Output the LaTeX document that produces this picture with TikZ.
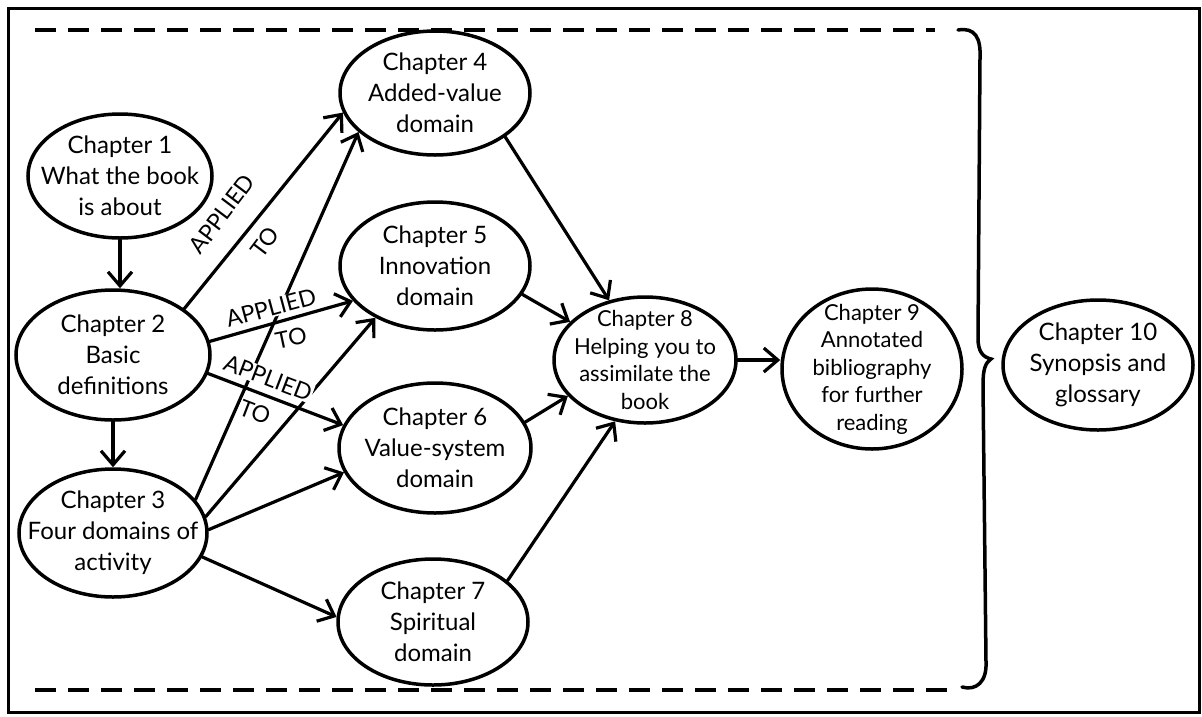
\documentclass[tikz,border=0pt]{standalone}
\usepackage{fontspec}
\setmainfont{Lato}
\usetikzlibrary{shapes.geometric,arrows.meta}

\begin{document}
\begin{tikzpicture}[x=1pt,y=-1pt,
  chap/.style={draw, line width=3.5pt, ellipse, inner xsep=-60pt, inner ysep=-45pt,
               align=center, font=\fontsize{24}{31}\selectfont},
  tight/.style={font=\fontsize{22}{27.5}\selectfont},
  link/.style={line width=3.2pt, line cap=round,
               -{Straight Barb[length=14pt,width=24pt,line width=3.2pt]}},
  tag/.style={font=\fontsize{23}{23}\selectfont, inner sep=1pt, fill=white},
  dashline/.style={line width=4.5pt, dash pattern=on 21pt off 12pt},
]
% page and frame
\fill[white] (0,0) rectangle (1202,716);
\useasboundingbox (0,0) rectangle (1202,716);
\draw[line width=3pt] (8,8) rectangle (1199,712);

% chapters
\node[chap, minimum width=184pt, minimum height=124pt] (c1) at (120,176) {Chapter 1\\What the book\\is about};
\node[chap, minimum width=194pt, minimum height=130pt] (c2) at (113,355) {Chapter 2\\Basic\\definitions};
\node[chap, minimum width=188pt, minimum height=128pt] (c3) at (113,533) {Chapter 3\\Four domains of\\activity};
\node[chap, minimum width=190pt, minimum height=124pt] (c4) at (435,93) {Chapter 4\\Added-value\\domain};
\node[chap, minimum width=190pt, minimum height=128pt] (c5) at (435,266) {Chapter 5\\Innovation\\domain};
\node[chap, minimum width=192pt, minimum height=130pt] (c6) at (435,448) {Chapter 6\\Value-system\\domain};
\node[chap, minimum width=190pt, minimum height=126pt] (c7) at (433,622) {Chapter 7\\Spiritual\\domain};
\node[chap, tight, minimum width=182pt, minimum height=126pt] (c8) at (645,360) {Chapter 8\\Helping you to\\assimilate the\\book};
\node[chap, tight, minimum width=180pt, minimum height=160pt] (c9) at (872,369) {Chapter 9\\Annotated\\bibliography\\for further\\reading};
\node[chap, minimum width=190pt, minimum height=130pt] (c10) at (1098,365) {Chapter 10\\Synopsis and\\glossary};

% links from chapter 3 (broken by the labels drawn after them)
\draw[link] (c3.22) -- (c4.207.5);
\draw[link] (c3.10.5) -- (c5.221.5);
\draw[link] (c3.2) -- (c6.195.7);
\draw[link] (c3.345) -- (c7.177);

% labels
\node[tag, rotate=53] (t1a) at (222,214) {APPLIED};
\node[tag, rotate=53] (t1b) at (265,242) {TO};
\node[tag, rotate=15] (t2a) at (271,308) {APPLIED};
\node[tag, rotate=12] (t2b) at (291,338) {TO};
\node[tag, rotate=-21] (t3a) at (268,378) {APPLIED};
\node[tag, rotate=-21] (t3b) at (255,412) {TO};

% remaining links
\draw[link] (c1.south) -- (c1.south |- c2.north);
\draw[link] (c2.south) -- (c2.south |- c3.north);
\draw[link] (c2.33) -- (c4.192);
\draw[link] (c2.8) -- (c5.203);
\draw[link] (c2.349) -- (c6.166);
\draw[link] (c4.328) -- (c8.121);
\draw[link] (c5.342) -- (c8.153);
\draw[link] (c6.16) -- (c8.205.7);
\draw[link] (c7.29) -- (c8.244);
\draw[link] (c8.east) -- (c8.east -| c9.west);

% dashed bounds and brace
\coordinate (topL) at (35,30);
\coordinate (topR) at (935,30);
\coordinate (botL) at (35,690);
\coordinate (botR) at (950,690);
\draw[dashline] (topL) -- (topR);
\draw[dashline] (botL) -- (botR);
\draw[line width=3.5pt, line cap=round]
  (958,30) .. controls (975,27) and (981,38) .. (980,58)
  -- (978,338) .. controls (978,352) and (983,357) .. (991,359)
  .. controls (985,363) and (983,370) .. (983,385)
  -- (986,662) .. controls (987,682) and (976,691) .. (962,687);
\end{tikzpicture}
\end{document}
